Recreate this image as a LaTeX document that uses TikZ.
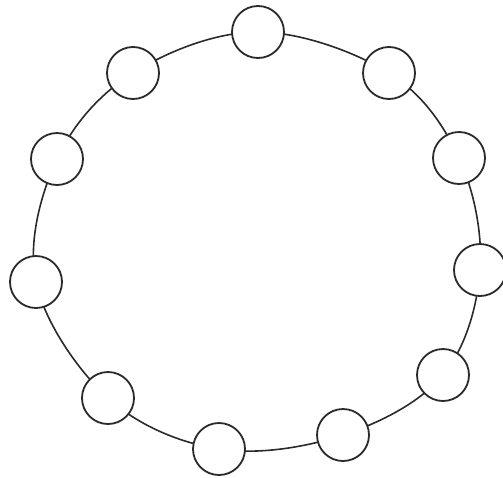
\documentclass[tikz,border=0pt]{standalone}
\usetikzlibrary{backgrounds}
\definecolor{ink}{HTML}{2A2A2A}
\tikzset{
  bead/.style={circle,draw=ink,fill=white,line width=1.8pt,minimum size=52pt,inner sep=0pt},
  ring/.style={draw=ink,line width=1.6pt}
}
\begin{document}
\begin{tikzpicture}[x=1pt,y=-1pt]
\useasboundingbox (0,0) rectangle (503,477);
\node[bead] (n1) at (258,32) {};
\node[bead] (n2) at (389,73) {};
\node[bead] (n3) at (459,158) {};
\node[bead] (n4) at (480,270) {};
\node[bead] (n5) at (443,375) {};
\node[bead] (n6) at (343,435) {};
\node[bead] (n7) at (219,449) {};
\node[bead] (n8) at (108,398) {};
\node[bead] (n9) at (36,282) {};
\node[bead] (n10) at (57,159) {};
\node[bead] (n11) at (133,73) {};
\begin{pgfonlayer}{background}
\draw[ring] plot[smooth cycle, tension=0.6] coordinates {(n1.center) (n2.center) (n3.center) (n4.center) (n5.center) (n6.center) (n7.center) (n8.center) (n9.center) (n10.center) (n11.center)};
\end{pgfonlayer}
\end{tikzpicture}
\end{document}
